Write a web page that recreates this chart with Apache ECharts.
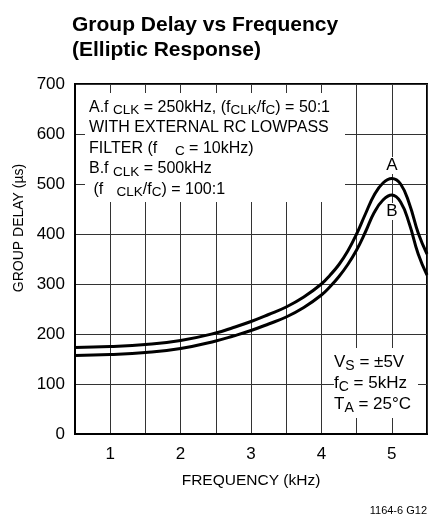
<!DOCTYPE html>
<html>
<head>
<meta charset="utf-8">
<script src="https://cdn.jsdelivr.net/npm/echarts@6/dist/echarts.min.js"></script>
<style>
  html, body { margin: 0; padding: 0; background: #fff; }
  #chart { width: 435px; height: 518px; }
</style>
</head>
<body>
<div id="chart"></div>
<script>
const FONT = "'Liberation Sans', Arial, sans-serif";

// frequency (kHz)
const freq = [0.5, 1.0, 1.5, 2.0, 2.5, 2.75, 3.0, 3.25, 3.5, 3.75, 4.0, 4.125, 4.25, 4.375, 4.5, 4.625, 4.75, 4.875, 5.0, 5.125, 5.25, 5.375, 5.5];
// group delay (us), curve A (fCLK = 250kHz) and curve B (fCLK = 500kHz)
const delayA = [173, 175, 179, 187, 202, 213, 225, 239, 254, 274, 300, 318, 339, 366, 400, 440, 478, 502, 511, 500, 460, 402, 360];
const delayB = [157, 159, 163, 171, 186, 196, 207, 220, 234, 253, 278, 295, 315, 339, 368, 404, 443, 468, 478, 464, 420, 360, 318];
const xTicks = [1, 2, 3, 4, 5];
const curveNames = ['A', 'B'];
const labelPos = [[5, 537], [5, 445]];

const chart = echarts.init(document.getElementById('chart'));

const mkSeries = (name, ys, i) => ({
  name,
  type: 'line',
  data: freq.map((f, k) => [f, ys[k]]),
  smooth: 0.45,
  showSymbol: false,
  silent: true,
  z: 5,
  lineStyle: { color: '#000', width: 3 },
  markPoint: {
    symbol: 'rect',
    symbolSize: 0.1,
    silent: true,
    data: [{ coord: labelPos[i] }],
    label: {
      show: true,
      position: 'inside',
      formatter: name,
      color: '#000',
      fontFamily: FONT,
      fontSize: 17,
      backgroundColor: '#fff',
      padding: [0, 1],
    },
  },
});

const option = {
  animation: false,
  title: {
    text: 'Group Delay vs Frequency\n(Elliptic Response)',
    left: 67,
    top: 8,
    textStyle: {
      fontFamily: FONT,
      fontSize: 21,
      fontWeight: 'bold',
      color: '#000',
      lineHeight: 25,
    },
  },
  grid: {
    left: 75,
    right: 8,
    top: 84,
    bottom: 84,
    show: true,
    borderColor: '#000',
    borderWidth: 2,
  },
  xAxis: {
    type: 'value',
    min: 0.5,
    max: 5.5,
    interval: 0.5,
    name: 'FREQUENCY (kHz)',
    nameLocation: 'middle',
    nameGap: 39,
    nameTextStyle: { fontFamily: FONT, fontSize: 15.5, color: '#000' },
    axisLine: { lineStyle: { color: '#000', width: 2 } },
    axisTick: { show: false },
    axisLabel: {
      margin: 12,
      fontFamily: FONT,
      fontSize: 17,
      color: '#000',
      formatter: v => (xTicks.includes(v) ? String(v) : ''),
    },
    splitLine: { lineStyle: { color: '#333', width: 1 } },
  },
  yAxis: {
    type: 'value',
    min: 0,
    max: 700,
    interval: 100,
    name: 'GROUP DELAY (µs)',
    nameLocation: 'middle',
    nameGap: 36,
    nameTextStyle: { fontFamily: FONT, fontSize: 14, color: '#000', padding: [0, 0, 0, 62] },
    axisLine: { lineStyle: { color: '#000', width: 2 } },
    axisTick: { show: false },
    axisLabel: { margin: 10, fontFamily: FONT, fontSize: 17, color: '#000' },
    splitLine: { lineStyle: { color: '#333', width: 1 } },
  },
  graphic: [
    {
      type: 'rect',
      z: 3,
      shape: { x: 85, y: 93, width: 260, height: 109 },
      style: { fill: '#fff' },
    },
    {
      type: 'text',
      z: 4,
      x: 89,
      y: 97,
      style: {
        text: [
          '{m|A.f }{s|CLK}{m| = 250kHz, (f}{s|CLK}{m|/f}{s|C}{m|) = 50:1}',
          '{m|WITH EXTERNAL RC LOWPASS}',
          '{m|FILTER (f    }{s|C}{m| = 10kHz)}',
          '{m|B.f }{s|CLK}{m| = 500kHz}',
          '{m| (f   }{s|CLK}{m|/f}{s|C}{m|) = 100:1}',
        ].join('\n'),
        rich: {
          m: { fontFamily: FONT, fontSize: 16, lineHeight: 20.5, fill: '#000' },
          s: { fontFamily: FONT, fontSize: 13.5, lineHeight: 11, verticalAlign: 'bottom', fill: '#000' },
        },
      },
    },
    {
      type: 'rect',
      z: 3,
      shape: { x: 334, y: 348, width: 84, height: 70 },
      style: { fill: '#fff' },
    },
    {
      type: 'text',
      z: 4,
      x: 334,
      y: 352,
      style: {
        text: [
          '{m|V}{s|S}{m| = ±5V}',
          '{m|f}{s|C}{m| = 5kHz}',
          '{m|T}{s|A}{m| = 25°C}',
        ].join('\n'),
        rich: {
          m: { fontFamily: FONT, fontSize: 17, lineHeight: 21, fill: '#000' },
          s: { fontFamily: FONT, fontSize: 14, lineHeight: 11, verticalAlign: 'bottom', fill: '#000' },
        },
      },
    },
    {
      type: 'text',
      right: 8,
      top: 505,
      style: { text: '1164-6 G12', fontFamily: FONT, fontSize: 11, fill: '#000' },
    },
  ],
  series: curveNames.map((n, i) => mkSeries(n, i === 0 ? delayA : delayB, i)),
};

chart.setOption(option);
</script>
</body>
</html>
